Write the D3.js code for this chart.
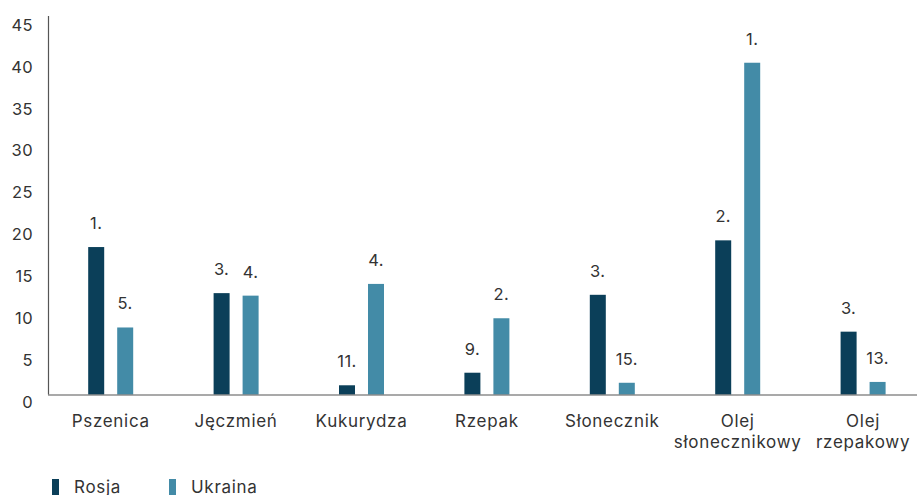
<!DOCTYPE html>
<html>
<head>
<meta charset="utf-8">
<script src="https://cdn.jsdelivr.net/npm/d3@7"></script>
<style>
  html, body { margin: 0; padding: 0; background: #fff; }
  svg { display: block; font-family: Inter, "Open Sans", sans-serif; }
</style>
</head>
<body>
<svg id="chart" width="917" height="495"></svg>
<script>
// Udział w światowym eksporcie (%) i miejsce w rankingu eksporterów
const categories = ["Pszenica", "Jęczmień", "Kukurydza", "Rzepak", "Słonecznik", "Olej słonecznikowy", "Olej rzepakowy"];
const categoryLines = [["Pszenica"], ["Jęczmień"], ["Kukurydza"], ["Rzepak"], ["Słonecznik"], ["Olej", "słonecznikowy"], ["Olej", "rzepakowy"]];
const seriesNames = ["Rosja", "Ukraina"];
const rosja = [17.6, 12.1, 1.1, 2.6, 11.9, 18.4, 7.5];
const ukraina = [8.0, 11.8, 13.2, 9.1, 1.4, 39.6, 1.5];
const rosjaRank = ["1.", "3.", "11.", "9.", "3.", "2.", "3."];
const ukrainaRank = ["5.", "4.", "4.", "2.", "15.", "1.", "13."];
const yTicks = [0, 5, 10, 15, 20, 25, 30, 35, 40, 45];

const colors = { "Rosja": "#0b3f59", "Ukraina": "#438ba7" };
const textColor = "#333333";
const axisColor = "#555555";

const svg = d3.select("#chart");
const left = 48, step = 125.4;
const y0 = 394.5, y45 = 17.5;

const x = d3.scaleBand().domain(categories).range([left, left + step * categories.length]).padding(0);
const xSub = d3.scaleBand().domain(seriesNames)
  .range([step / 2 - 22.5, step / 2 + 22.5]).paddingInner(13 / 29).paddingOuter(0);
const y = d3.scaleLinear().domain([0, 45]).range([y0, y45]);

const rows = categories.map((c, i) => ({
  category: c,
  values: [
    { series: "Rosja", value: rosja[i], rank: rosjaRank[i] },
    { series: "Ukraina", value: ukraina[i], rank: ukrainaRank[i] }
  ]
}));

// Oś Y
const yAxis = svg.append("g")
  .attr("transform", `translate(${left},0)`)
  .call(d3.axisLeft(y).tickValues(yTicks).tickSize(0).tickPadding(15));
yAxis.select(".domain").attr("stroke", axisColor).attr("stroke-width", 1.2)
  .attr("d", `M0.5,${y45 - 1.5}V${y0}`);
yAxis.selectAll(".tick text")
  .attr("fill", textColor).attr("font-size", 16.5).attr("font-family", "Inter, sans-serif")
  .attr("letter-spacing", 0.4)
  .attr("dy", "0.32em").attr("y", 7.5);

// Słupki
const groups = svg.append("g").selectAll("g").data(rows).join("g")
  .attr("transform", d => `translate(${x(d.category)},0)`);

groups.selectAll("rect").data(d => d.values).join("rect")
  .attr("x", d => xSub(d.series))
  .attr("width", xSub.bandwidth())
  .attr("y", d => y(d.value))
  .attr("height", d => y(0) - y(d.value))
  .attr("fill", d => colors[d.series]);

groups.selectAll("text.rank").data(d => d.values).join("text")
  .attr("class", "rank")
  .attr("x", d => xSub(d.series) + xSub.bandwidth() / 2)
  .attr("y", d => y(d.value) - 18)
  .attr("text-anchor", "middle")
  .attr("fill", textColor).attr("font-size", 16.5).attr("letter-spacing", 0.4)
  .text(d => d.rank);

// Linia bazowa
svg.append("line")
  .attr("x1", left).attr("x2", 917)
  .attr("y1", y(0) + 0.5).attr("y2", y(0) + 0.5)
  .attr("stroke", axisColor).attr("stroke-width", 1.2);

// Etykiety kategorii
const catLabels = svg.append("g").selectAll("text").data(categories).join("text")
  .attr("x", d => x(d) + x.bandwidth() / 2)
  .attr("y", 427)
  .attr("text-anchor", "middle")
  .attr("fill", textColor).attr("font-size", 17).attr("letter-spacing", 0.7);
catLabels.each(function(d, i) {
  const t = d3.select(this);
  categoryLines[i].forEach((line, j) => {
    t.append("tspan")
      .attr("x", x(d) + x.bandwidth() / 2)
      .attr("dy", j === 0 ? 0 : 20.5)
      .text(line);
  });
});

// Legenda
const legendX = [52, 169];
const legend = svg.append("g").selectAll("g").data(seriesNames).join("g")
  .attr("transform", (d, i) => `translate(${legendX[i]},479)`);
legend.append("rect").attr("width", 7).attr("height", 18).attr("fill", d => colors[d]);
legend.append("text").attr("x", 22).attr("y", 13.5)
  .attr("fill", textColor).attr("font-size", 17).attr("letter-spacing", 0.7).text(d => d);
</script>
</body>
</html>
